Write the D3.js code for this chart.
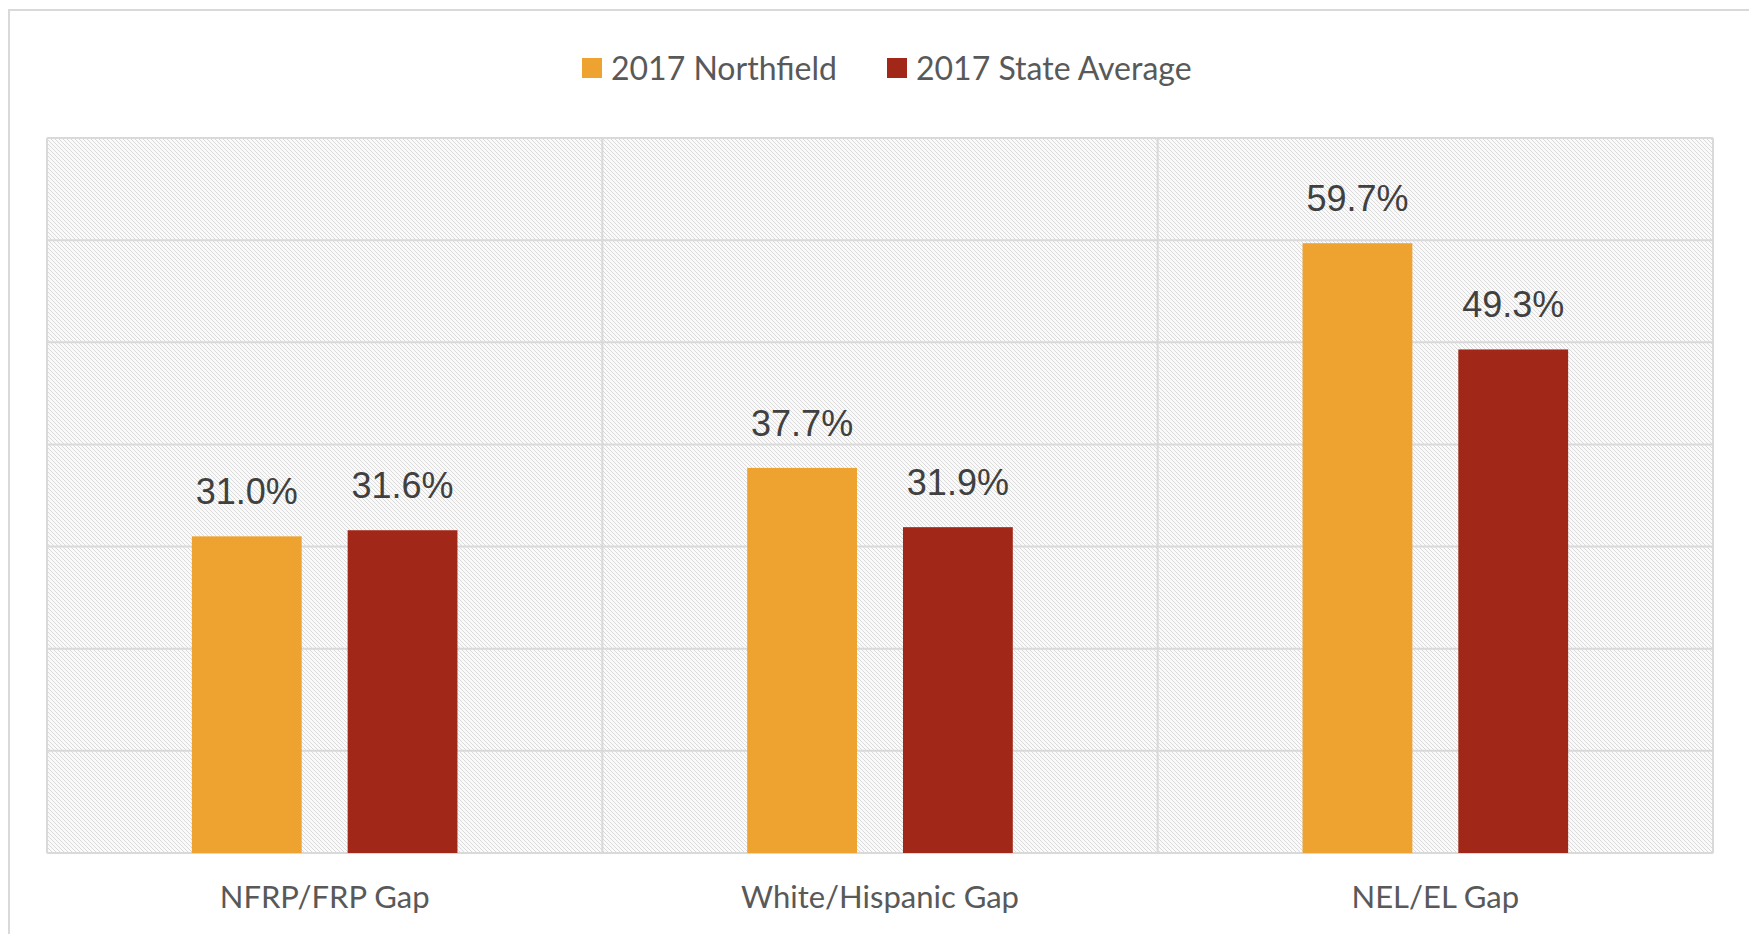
<!DOCTYPE html>
<html lang="en">
<head>
  <meta charset="UTF-8">
  <title>2017 gaps</title>
  <style>
    *{ margin:0; padding:0; box-sizing:border-box }
    html, body { width:100%; height:100%; background:#fff; overflow:hidden }
    svg { position:absolute; top:0; left:0 }
    .grid line { stroke:#d9d9d9; stroke-width:2 }
    .val  { font-family:"Liberation Sans", Arial, sans-serif; font-size:36px; fill:#404040 }
    .cat  { font-family:Lato, "Open Sans", sans-serif; font-size:31px; fill:#595959 }
    .leg  { font-family:Lato, "Open Sans", sans-serif; font-size:32px; fill:#595959 }
  </style>
  <script src="https://cdn.jsdelivr.net/npm/d3@7/dist/d3.min.js"></script>
</head>
<body>
  <svg id="chart"></svg>
  <script>
    // data
    const categories = ["NFRP/FRP Gap", "White/Hispanic Gap", "NEL/EL Gap"];
    const seriesNames = ["2017 Northfield", "2017 State Average"];
    const northfield = [31.0, 37.7, 59.7];
    const stateAverage = [31.6, 31.9, 49.3];
    const yTicks = [0, 10, 20, 30, 40, 50, 60, 70];
    const colors = ["#eea230", "#a12818"];

    const W = 1749, H = 934;
    const svg = d3.select("#chart").attr("width", W).attr("height", H);

    // outer frame (runs off the right/bottom edge)
    svg.append("rect")
      .attr("x", 9).attr("y", 10).attr("width", W).attr("height", H)
      .attr("fill", "none").attr("stroke", "#d9d9d9").attr("stroke-width", 2);

    const plot = { left: 47, right: 1713, top: 138, bottom: 853 };

    const x0 = d3.scaleBand().domain(categories).range([plot.left, plot.right]);
    const x1 = d3.scaleBand().domain(seriesNames).range([0, x0.bandwidth()])
      .paddingInner(0.295).paddingOuter(0.93);
    const y = d3.scaleLinear().domain([0, 70]).range([plot.bottom, plot.top]);

    // hatched background
    const defs = svg.append("defs");
    const pat = defs.append("pattern").attr("id", "hatch")
      .attr("patternUnits", "userSpaceOnUse").attr("width", 4).attr("height", 4);
    pat.append("rect").attr("width", 4).attr("height", 4).attr("fill", "#fafafa");
    pat.append("path").attr("d", "M-1,-1L5,5M-1,3L1,5M3,-1L5,1")
      .attr("stroke", "#dadada").attr("stroke-width", 1);

    svg.append("rect")
      .attr("x", plot.left).attr("y", plot.top)
      .attr("width", plot.right - plot.left).attr("height", plot.bottom - plot.top)
      .attr("fill", "url(#hatch)");

    // gridlines + category separators
    const grid = svg.append("g").attr("class", "grid");
    grid.selectAll("line.h").data(yTicks).join("line").attr("class", "h")
      .attr("x1", plot.left).attr("x2", plot.right)
      .attr("y1", d => y(d)).attr("y2", d => y(d));
    const seps = categories.map(c => x0(c)).concat([plot.right]);
    grid.selectAll("line.v").data(seps).join("line").attr("class", "v")
      .attr("x1", d => d).attr("x2", d => d)
      .attr("y1", plot.top).attr("y2", plot.bottom);

    // bars
    const rows = categories.map((c, i) => ({
      cat: c,
      vals: [
        { s: seriesNames[0], v: northfield[i], c: colors[0] },
        { s: seriesNames[1], v: stateAverage[i], c: colors[1] }
      ]
    }));

    const groups = svg.append("g").selectAll("g").data(rows).join("g")
      .attr("transform", d => `translate(${x0(d.cat)},0)`);

    groups.selectAll("rect").data(d => d.vals).join("rect")
      .attr("x", d => x1(d.s)).attr("width", x1.bandwidth())
      .attr("y", d => y(d.v)).attr("height", d => y(0) - y(d.v))
      .attr("fill", d => d.c);

    groups.selectAll("text").data(d => d.vals).join("text")
      .attr("class", "val")
      .attr("text-anchor", "middle")
      .attr("x", d => x1(d.s) + x1.bandwidth() / 2)
      .attr("y", d => y(d.v) - 32)
      .text(d => d.v.toFixed(1) + "%");

    // category labels
    svg.append("g").selectAll("text").data(categories).join("text")
      .attr("class", "cat").attr("text-anchor", "middle")
      .attr("x", d => x0(d) + x0.bandwidth() / 2).attr("y", 908)
      .text(d => d);

    // legend
    const leg = svg.append("g").attr("transform", "translate(582,0)");
    const legX = [0, 305];
    seriesNames.forEach((s, i) => {
      leg.append("rect").attr("x", legX[i]).attr("y", 58)
        .attr("width", 20).attr("height", 20).attr("fill", colors[i]);
      leg.append("text").attr("class", "leg")
        .attr("x", legX[i] + 29).attr("y", 80).text(s);
    });
  </script>
</body>
</html>
